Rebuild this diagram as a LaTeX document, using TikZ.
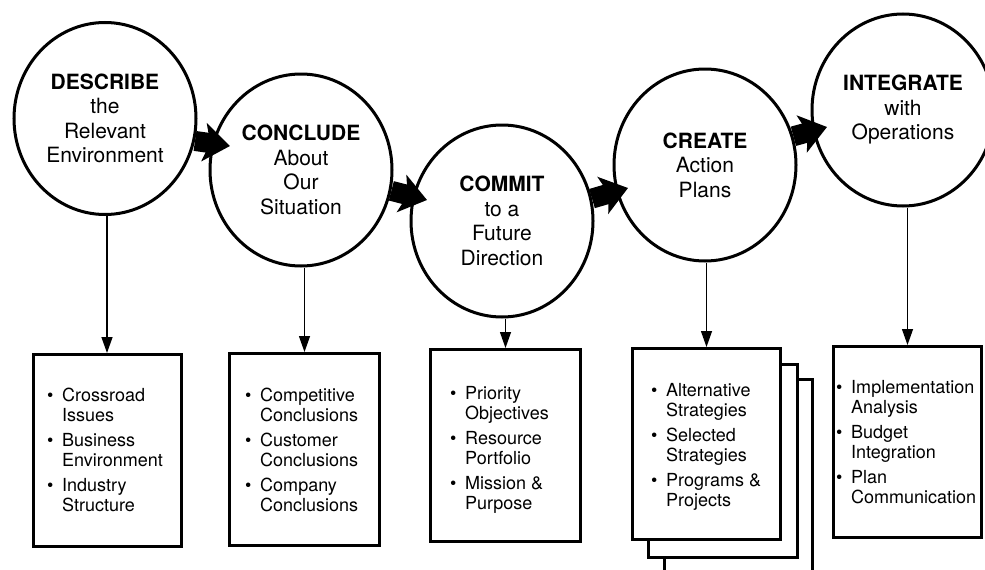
\documentclass[tikz,border=0pt]{standalone}
\usepackage{fontspec}
\setmainfont{TeX Gyre Heros}
\usetikzlibrary{shapes.geometric,arrows.meta,calc}
\newcommand\bul{\makebox[15pt][l]{\textbullet}}
\newcommand\ind{\hspace*{15pt}}
\begin{document}
\begin{tikzpicture}[x=1pt,y=-1pt,
  stage/.style={ellipse, draw, line width=3pt, fill=white, minimum width=182pt, minimum height=192pt, inner sep=0pt, align=center, font=\fontsize{21}{24.5}\selectfont},
  listbox/.style={draw, line width=3pt, fill=white, minimum width=148pt, minimum height=192pt, inner sep=0pt},
  listtext/.style={anchor=north west, inner sep=0pt, align=left, font=\fontsize{18}{20}\selectfont},
  fat/.style={line width=20pt, -{Stealth[length=26pt,width=38pt,inset=6pt]}},
  down/.style={line width=1.3pt, -{Triangle[length=16pt,width=11pt]}}
]
\useasboundingbox (0,0) rectangle (985,570);
\begin{scope}
\clip (0,0) rectangle (985,570);
\fill[white] (0,0) rectangle (985,570);

% stages
\node[stage] (c1) at (105,118.5) {\textbf{DESCRIBE}\\the\\Relevant\\Environment};
\node[stage] (c2) at (301,170) {\textbf{CONCLUDE}\\About\\Our\\Situation};
\node[stage] (c3) at (502,221) {\textbf{COMMIT}\\to a\\Future\\Direction};
\node[stage] (c4) at (705,165) {\textbf{CREATE}\\Action\\Plans};
\node[stage] (c5) at (903,110) {\textbf{INTEGRATE}\\with\\Operations};

% boxes
\node[listbox] (b1) at (107,450.5) {};
\node[listbox, minimum width=150pt] (b2) at (304.5,449.5) {};
\node[listbox, minimum width=150pt] (b3) at (505.5,445.5) {};
\node[listbox, minimum height=240pt] (s2) at (738.5,499.5) {};
\node[listbox, minimum width=149pt, minimum height=193pt] (s1) at (723,461) {};
\node[listbox, minimum height=191pt] (b4) at (706.5,444) {};
\node[listbox, minimum height=191pt] (b5) at (907.5,442) {};

% list texts
\node[listtext] (t1) at (47,387.7) {\rule{0pt}{14pt}\bul Crossroad\\\ind Issues\\[5pt]\bul Business\\\ind Environment\\[5pt]\bul Industry\\\ind Structure};
\node[listtext] (t2) at (245,387) {\rule{0pt}{14pt}\bul Competitive\\\ind Conclusions\\[5pt]\bul Customer\\\ind Conclusions\\[5pt]\bul Company\\\ind Conclusions};
\node[listtext] (t3) at (450,385) {\rule{0pt}{14pt}\bul Priority\\\ind Objectives\\[5pt]\bul Resource\\\ind Portfolio\\[5pt]\bul Mission \&\\\ind Purpose};
\node[listtext] (t4) at (651,382.7) {\rule{0pt}{14pt}\bul Alternative\\\ind Strategies\\[5pt]\bul Selected\\\ind Strategies\\[5pt]\bul Programs \&\\\ind Projects};
\node[listtext] (t5) at (836,379) {\rule{0pt}{14pt}\bul Implementation\\\ind Analysis\\[5pt]\bul Budget\\\ind Integration\\[5pt]\bul Plan\\\ind Communication};

% down arrows
\draw[down] (c1.south -| b1.north) -- (b1.north);
\draw[down] (c2.south -| b2.north) -- (b2.north);
\draw[down] (c3.south -| b3.north) -- (b3.north);
\draw[down] (c4.south -| b4.north) -- (b4.north);
\draw[down] (c5.south -| b5.north) -- (b5.north);

% fat arrows between stages
\coordinate (tip12) at (230,146);
\coordinate (tip23) at (427,200);
\coordinate (tip34) at (628,188);
\coordinate (tip45) at (827,127);
\draw[fat] (c1.-14) -- (tip12);
\draw[fat] (c2.-13) -- (tip23);
\draw[fat] (c3.14) -- (tip34);
\draw[fat] (c4.18) -- (tip45);
\end{scope}
\end{tikzpicture}
\end{document}
